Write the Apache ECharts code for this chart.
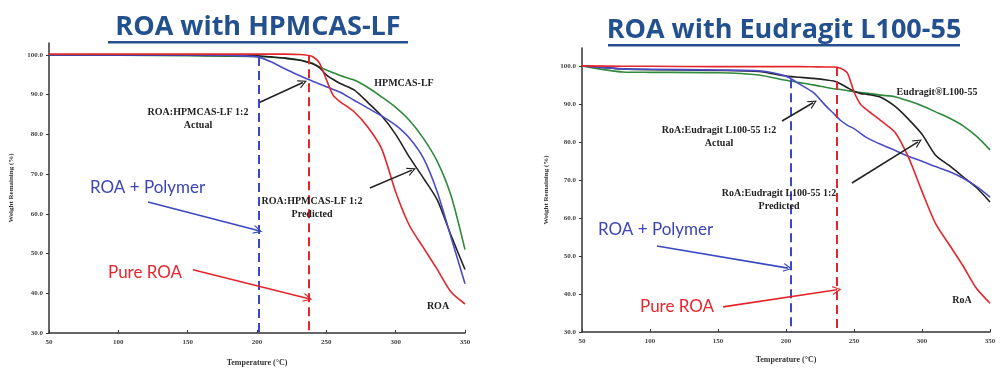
<!DOCTYPE html>
<html><head><meta charset="utf-8">
<script src="https://cdn.jsdelivr.net/npm/echarts@6/dist/echarts.min.js"></script>
<style>html,body{margin:0;padding:0;background:#fff}#c{width:1001px;height:372px}</style>
</head><body><div id="c"></div>
<script>
// ---- Left chart: ROA with HPMCAS-LF ----
const hpTemps = [50,100,150,180,200,210,220,230,235,240,245,250,255,260,270,280,290,300,310,320,330,340,350];
const hpROA      = [100.2,100.2,100.2,100.2,100.2,100.2,100.2,100.1,100.0,99.6,98.0,93.8,89.8,88.2,85.7,81.8,76.3,65.5,57.0,51.5,46.0,40.3,37.3];
const hpPolymer  = [100,99.9,99.8,99.7,99.6,99.4,99.2,98.8,98.4,97.9,97.0,96.2,95.5,94.8,93.7,91.8,89.4,86.8,83.5,79.0,73.2,64.5,51.0];
const hpPredicted= [100,99.95,99.9,99.85,99.8,99.5,99.2,98.7,98.3,97.8,96.8,95.0,93.8,92.8,91.2,88.0,84.6,80.0,74.2,69.0,63.5,54.5,46.0];
const hpActual   = [100,100,100,99.9,99.5,98.3,96.5,94.9,94.1,93.4,92.7,92.0,91.3,90.6,88.6,86.6,84.6,82.3,79.0,74.0,65.5,54.0,42.4];
const hpPolymerDashT = 201.4, hpRoaDashT = 237.5;

// ---- Right chart: ROA with Eudragit L100-55 ----
const euTemps = [50,80,100,150,180,200,210,220,230,235,240,245,250,255,260,270,280,290,300,310,320,330,340,350];
const euROA      = [100,99.9,99.9,99.8,99.8,99.8,99.8,99.75,99.7,99.7,99.4,98.2,93.2,89.8,88.3,85.5,82.6,76.0,67.0,58.5,53.0,47.5,41.5,37.6];
const euPolymer  = [100,98.4,98.3,98.2,97.6,96.2,95.6,95.0,94.3,94.0,93.8,93.5,93.2,93.0,92.8,92.3,91.9,90.8,89.5,87.9,86.3,84.3,81.5,77.9];
const euPredicted= [100,99.2,99.0,98.8,98.5,97.3,97.0,96.7,96.3,96.0,95.3,94.3,93.3,92.7,92.5,91.7,89.4,86.0,82.0,76.5,73.8,70.9,68.0,64.2];
const euActual   = [100,99.2,99.1,98.9,98.7,97.3,95.2,93.0,89.2,87.5,85.7,84.4,83.5,82.2,81.0,79.3,77.8,76.2,74.9,73.5,72.2,70.5,68.3,65.5];
const euPolymerDashT = 203.7, euRoaDashT = 237.5;

const xTicks = [50,100,150,200,250,300,350];
const yMin = 30, yMaxL = 103, yMaxR = 104.7;

const RED = '#e3262b', GREEN = '#2f8a3b', BLUE = '#4b4cc4', BLACK = '#222', DBLUE = '#3a48c2';
const TICKFONT = {fontFamily:'Liberation Serif', fontWeight:'bold', fontSize:7, color:'#444'};

function zip(t, v){ return t.map((x,i)=>[x, v[i]]); }

const chevron = 'path://M0,10 L5,0 L10,10 L8.6,10 L5,2.8 L1.4,10 Z';

function arrow(p1, p2, color){
  return [{coord:p1, symbol:'none', lineStyle:{color:color}}, {coord:p2, symbol:chevron, symbolSize:[9,9], lineStyle:{color:color}}];
}

function xAxis(gi){
  return {type:'value', gridIndex:gi, min:50, max:350, interval:50,
    axisLine:{lineStyle:{color:'#333', width:1.5}},
    axisTick:{inside:true, length:3, lineStyle:{color:'#333'}},
    axisLabel:Object.assign({margin:6}, TICKFONT),
    splitLine:{show:false},
    name:'Temperature (°C)', nameLocation:'middle', nameGap: gi===0?26:24,
    nameTextStyle:{fontFamily:'Liberation Serif', fontWeight:'bold', fontSize:8, color:'#333'}};
}
function yAxis(gi, max){
  return {type:'value', gridIndex:gi, min:yMin, max:max, interval:10,
    axisLine:{show:true, lineStyle:{color:'#333', width:1.5}},
    axisTick:{show:true, length:3, lineStyle:{color:'#333'}},
    axisLabel:Object.assign({margin:6, showMaxLabel:false, formatter:v=>v.toFixed(1)}, TICKFONT),
    splitLine:{show:false},
    name:'Weight Remaining (%)', nameLocation:'middle', nameGap: gi===0?34:32, nameRotate:90,
    nameTextStyle:{fontFamily:'Liberation Serif', fontWeight:'bold', fontSize:7, color:'#333'}};
}
function line(gi, t, v, color, extra){
  return Object.assign({type:'line', xAxisIndex:gi, yAxisIndex:gi, data:zip(t,v), smooth:0.25, showSymbol:false,
    lineStyle:{color:color, width:1.6}, itemStyle:{color:color}, z:3}, extra||{});
}

const chart = echarts.init(document.getElementById('c'));
const annoSerif = {fontFamily:'Liberation Serif', fontWeight:'bold', fontSize:10, fill:'#222', textAlign:'center', textVerticalAlign:'middle', lineHeight:13};
const bigFont = {fontFamily:'Lato', fontSize:17, textAlign:'left', textVerticalAlign:'middle'};
const titleFont = {fontFamily:'Open Sans', fontWeight:'bold', fontSize:27, fill:'#23508e', textAlign:'center', textVerticalAlign:'middle'};
function txt(x,y,s,style){ return {type:'text', style:Object.assign({x:x,y:y,text:s}, style), z:10}; }

chart.setOption({
  backgroundColor:'#ffffff',
  animation:false,
  grid:[{left:49, right:536, top:43, bottom:35}, {left:582, right:11, top:48, bottom:40}],
  xAxis:[xAxis(0), xAxis(1)],
  yAxis:[yAxis(0, yMaxL), yAxis(1, yMaxR)],
  series:[
    line(0, hpTemps, hpPolymer, GREEN),
    line(0, hpTemps, hpPredicted, BLACK),
    line(0, hpTemps, hpActual, BLUE),
    line(0, hpTemps, hpROA, RED, {markLine:{silent:true, symbol:'none', animation:false, label:{show:false},
      data:[
        [{coord:[hpPolymerDashT, 99.5]}, {coord:[hpPolymerDashT, yMin], lineStyle:{color:DBLUE, type:[9,5], width:2}}],
        [{coord:[hpRoaDashT, 99.9]}, {coord:[hpRoaDashT, yMin], lineStyle:{color:RED, type:[9,5], width:2}}],
        arrow([202.1,88.1],[233.1,93.05],'#222'),
        arrow([281.4,66.5],[311.7,71.0],'#222'),
        arrow([121.4,63.0],[200.7,55.8],DBLUE),
        arrow([153.8,45.9],[236.7,38.7],RED)
      ], lineStyle:{type:'solid', width:1.6}}}),
    line(1, euTemps, euPolymer, GREEN),
    line(1, euTemps, euPredicted, BLACK),
    line(1, euTemps, euActual, BLUE),
    line(1, euTemps, euROA, RED, {markLine:{silent:true, symbol:'none', animation:false, label:{show:false},
      data:[
        [{coord:[euPolymerDashT, 96.5]}, {coord:[euPolymerDashT, yMin], lineStyle:{color:DBLUE, type:[9,5], width:2}}],
        [{coord:[euRoaDashT, 99.7]}, {coord:[euRoaDashT, yMin], lineStyle:{color:RED, type:[9,5], width:2}}],
        arrow([197.1,85.5],[219.9,90.3],'#222'),
        arrow([248.5,69.2],[297.1,80.0],'#222'),
        arrow([105.1,52.6],[201.5,46.8],DBLUE),
        arrow([153.7,36.6],[237.5,41.1],RED)
      ], lineStyle:{type:'solid', width:1.6}}})
  ],
  graphic:[
    txt(258, 27, 'ROA with HPMCAS-LF', titleFont),
    {type:'rect', shape:{x:108, y:41, width:300, height:2.5}, style:{fill:'#23508e'}},
    txt(784, 30, 'ROA with Eudragit L100-55', titleFont),
    {type:'rect', shape:{x:608, y:44, width:352, height:2.5}, style:{fill:'#23508e'}},

    txt(404, 83, 'HPMCAS-LF', annoSerif),
    txt(198, 119, 'ROA:HPMCAS-LF 1:2\nActual', annoSerif),
    txt(312, 208, 'ROA:HPMCAS-LF 1:2\nPredicted', annoSerif),
    txt(90, 188, 'ROA + Polymer', Object.assign({fill:'#3b45b8'}, bigFont)),
    txt(108, 273, 'Pure ROA', Object.assign({fill:'#e8252c'}, bigFont)),
    txt(438, 306, 'ROA', annoSerif),

    txt(937, 92, 'Eudragit®L100-55', annoSerif),
    txt(719, 137, 'RoA:Eudragit L100-55 1:2\nActual', annoSerif),
    txt(779, 200, 'RoA:Eudragit L100-55 1:2\nPredicted', annoSerif),
    txt(598, 230, 'ROA + Polymer', Object.assign({fill:'#3b45b8'}, bigFont)),
    txt(640, 307, 'Pure ROA', Object.assign({fill:'#e8252c'}, bigFont)),
    txt(962, 300, 'RoA', annoSerif)
  ]
});
</script></body></html>
